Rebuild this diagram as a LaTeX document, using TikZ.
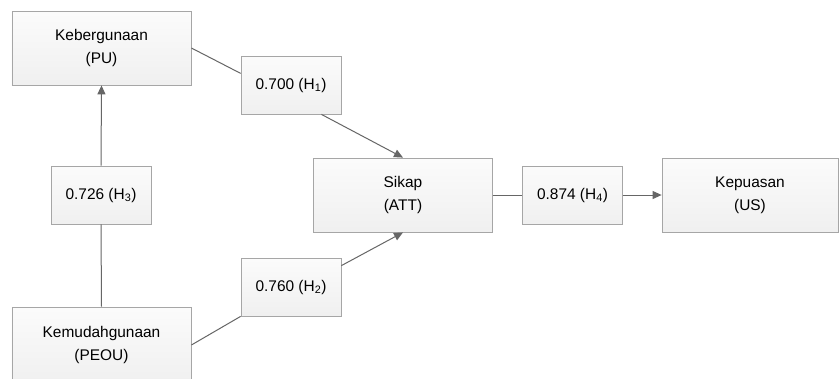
\documentclass[tikz,border=0pt]{standalone}
\usepackage{fontspec}
\setmainfont{Liberation Sans}
\usetikzlibrary{arrows.meta}
\begin{document}
\begin{tikzpicture}[x=1bp,y=-1bp,
  box/.style={draw=gray!70, top color=gray!3, bottom color=gray!12, line width=0.8bp,
    align=center, inner sep=0pt, font=\fontsize{15.5}{23}\selectfont},
  bigbox/.style={box, minimum width=179bp, minimum height=74bp},
  valbox/.style={box, minimum width=100bp, minimum height=58bp},
  conn/.style={draw=black!60, line width=1bp},
  arr/.style={conn, -{Triangle[length=9bp,width=8bp]}}]
\useasboundingbox[fill=white] (0,0) rectangle (839,378);
\node[bigbox] (pu) at (101.5,48) {Kebergunaan\\(PU)};
\node[valbox] (h1) at (291,85) {0.700 (H\textsubscript{1})};
\node[valbox] (h3) at (101,195) {0.726 (H\textsubscript{3})};
\node[bigbox, minimum height=76bp] (peou) at (101.5,345) {Kemudahgunaan\\(PEOU)};
\node[valbox] (h2) at (291,287) {0.760 (H\textsubscript{2})};
\node[bigbox] (att) at (403,195) {Sikap\\(ATT)};
\node[valbox] (h4) at (572.5,195) {0.874 (H\textsubscript{4})};
\node[bigbox, minimum width=176bp] (us) at (750,195) {Kepuasan\\(US)};
\draw[conn] (pu.east) -- (h1.167.6);
\draw[arr] (h1.316.9) -- (att.north);
\draw[arr] (h3.north) -- (pu.south);
\draw[conn] (peou.north) -- (h3.south);
\draw[conn] (peou.east) -- (h2.south west);
\draw[arr] (h2.23.7) -- (att.south);
\draw[conn] (att.east) -- (h4.west);
\draw[arr] (h4.east) -- (us.west);
\end{tikzpicture}
\end{document}
